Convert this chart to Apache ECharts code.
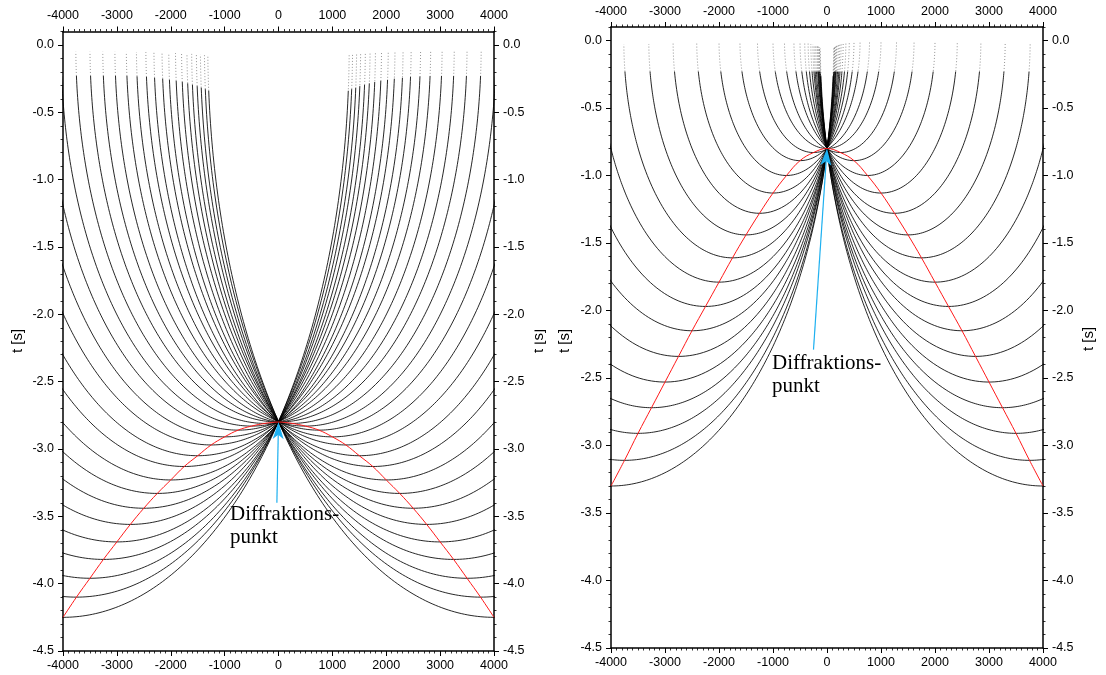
<!DOCTYPE html>
<html><head><meta charset="utf-8">
<script src="https://cdn.jsdelivr.net/npm/echarts@6/dist/echarts.min.js"></script>
<style>html,body{margin:0;padding:0;background:#fff}#c{width:1106px;height:675px}</style>
</head><body><div id="c"></div>
<script>
// ---- data ----
const xTickLabels = ['-4000','-3000','-2000','-1000','0','1000','2000','3000','4000'];
const tTickLabels = ['0.0','-0.5','-1.0','-1.5','-2.0','-2.5','-3.0','-3.5','-4.0','-4.5'];
// centres of the migration ellipses (x of points on the diffraction hyperbola)
const centersX = [-4000,-3750,-3500,-3250,-3000,-2750,-2500,-2250,-2000,-1750,-1500,-1250,-1000,-750,-500,-250,0,
                   250,500,750,1000,1250,1500,1750,2000,2250,2500,2750,3000,3250,3500,3750,4000];
// apex (lowest) times of the ellipses = times on the red hyperbola, left panel
const apexTimesLeft = [4.25,4.10,3.96,3.82,3.69,3.56,3.44,3.33,3.23,3.13,3.05,2.97,2.91,2.86,2.83,2.81,2.80,
                       2.81,2.83,2.86,2.91,2.97,3.05,3.13,3.23,3.33,3.44,3.56,3.69,3.82,3.96,4.10,4.25];
// right panel
const apexTimesRight = [3.30,3.11,2.91,2.72,2.53,2.34,2.15,1.97,1.79,1.61,1.44,1.28,1.13,1.00,0.89,0.83,0.80,
                        0.83,0.89,1.00,1.13,1.28,1.44,1.61,1.79,1.97,2.15,2.34,2.53,2.72,2.91,3.11,3.30];
const diffractionPoints = [[0, -2.8], [0, -0.8]];
const arrowTails = [[-30, -3.40], [-250, -2.29]];
const velocity = 2500; // m/s, sets the half-width of each ellipse
const labelLines = ['Diffraktions-', 'punkt'];
const axisName = 't [s]';

// ---- chart ----
const chart = echarts.init(document.getElementById('c'), null, {renderer: 'canvas'});
const grids = [
  {left: 63, top: 31.5, width: 431, height: 619.5},
  {left: 611, top: 27, width: 432, height: 621}
];
const lab = {fontFamily: 'Liberation Sans', fontSize: 12.5, color: '#000'};
function xLabel(v) { const i = Math.round((v + 4000) / 1000); return Math.abs(v - (i * 1000 - 4000)) < 1e-6 ? xTickLabels[i] : ''; }
function tLabel(v) { const i = Math.round(-v / 0.5); return (i >= 0 && i < tTickLabels.length && Math.abs(v + i * 0.5) < 1e-6) ? tTickLabels[i] : ''; }

const xAxes = [], yAxes = [];
grids.forEach((g, gi) => {
  ['bottom', 'top'].forEach(pos => xAxes.push({
    type: 'value', gridIndex: gi, position: pos, min: -4000, max: 4000, interval: 1000,
    axisLine: {show: true, onZero: false, lineStyle: {color: '#000', width: 1.5}},
    axisTick: {show: true, length: 5, lineStyle: {color: '#000', width: 1}},
    minorTick: {show: true, splitNumber: 10, length: 2.5, lineStyle: {color: '#000', width: 0.8}},
    splitLine: {show: false},
    axisLabel: Object.assign({margin: pos === 'top' ? 9 : 8, formatter: xLabel}, lab)
  }));
  ['left', 'right'].forEach(pos => yAxes.push({
    type: 'value', gridIndex: gi, position: pos, min: -4.5, max: 0.1, interval: 0.5,
    axisLine: {show: true, onZero: false, lineStyle: {color: '#000', width: 1.5}},
    axisTick: {show: true, length: 5, lineStyle: {color: '#000', width: 1}},
    splitLine: {show: false},
    axisLabel: Object.assign({margin: 9, formatter: tLabel, showMaxLabel: false}, lab)
  }));
  ['left', 'right'].forEach(pos => yAxes.push({
    type: 'value', gridIndex: gi, position: pos, min: -4.5, max: 0.1, interval: 0.1,
    axisLine: {show: false, onZero: false}, axisLabel: {show: false}, splitLine: {show: false},
    axisTick: {show: true, length: 2.5, lineStyle: {color: '#000', width: 0.8}}
  }));
});

function arc(x0, t0, thA, thB, n) {
  const a = velocity * t0 / 2, pts = [];
  for (let k = 0; k <= n; k++) {
    const th = thA + (thB - thA) * k / n;
    pts.push([x0 + a * Math.cos(th), -t0 * Math.sin(th)]);
  }
  return pts;
}

const series = [];
[apexTimesLeft, apexTimesRight].forEach((apex, gi) => {
  const xi = gi * 2, yi = gi * 4;
  centersX.forEach((x0, i) => {
    const t0 = apex[i];
    const sSolid = Math.min(0.95, Math.max(0.08, 0.23 / t0));
    const sEnd = 0.018;
    const thS = Math.asin(sSolid), thE = Math.asin(sEnd);
    const dotted = {color: '#777', width: 0.8, type: [1, 2]};
    series.push({type: 'line', xAxisIndex: xi, yAxisIndex: yi, data: arc(x0, t0, thS, Math.PI - thS, 260),
      showSymbol: false, symbol: 'none', lineStyle: {color: '#000', width: 0.85}, z: 2, silent: true});
    series.push({type: 'line', xAxisIndex: xi, yAxisIndex: yi, data: arc(x0, t0, thE, thS, 40),
      showSymbol: false, symbol: 'none', lineStyle: dotted, z: 2, silent: true});
    series.push({type: 'line', xAxisIndex: xi, yAxisIndex: yi, data: arc(x0, t0, Math.PI - thS, Math.PI - thE, 40),
      showSymbol: false, symbol: 'none', lineStyle: dotted, z: 2, silent: true});
  });
  series.push({type: 'line', xAxisIndex: xi, yAxisIndex: yi, smooth: 0.4,
    data: centersX.map((x, i) => [x, -apex[i]]),
    showSymbol: false, symbol: 'none', lineStyle: {color: '#ff1a1a', width: 1}, z: 5, silent: true});
});

chart.setOption({
  animation: false,
  backgroundColor: '#fff',
  grid: grids,
  xAxis: xAxes,
  yAxis: yAxes,
  series: series
});

// ---- arrows, annotation texts, axis names ----
const gfx = [];
const textPos = [[230, 514.5, 537], [772, 363.5, 386]];
diffractionPoints.forEach((dp, gi) => {
  const finder = {xAxisIndex: gi * 2, yAxisIndex: gi * 4};
  const P = chart.convertToPixel(finder, dp);
  const T = chart.convertToPixel(finder, arrowTails[gi]);
  const dx = P[0] - T[0], dy = P[1] - T[1], len = Math.hypot(dx, dy);
  const d = [dx / len, dy / len], nrm = [-d[1], d[0]];
  const L = 17, W = 11;
  const B = [P[0] - d[0] * L, P[1] - d[1] * L];
  const N = [P[0] - d[0] * L * 0.75, P[1] - d[1] * L * 0.75];
  gfx.push({type: 'line', silent: true, z: 10, shape: {x1: T[0], y1: T[1], x2: N[0], y2: N[1]},
    style: {stroke: '#1eb0f0', lineWidth: 1.2}});
  gfx.push({type: 'polygon', silent: true, z: 10, shape: {points: [
      P, [B[0] + nrm[0] * W / 2, B[1] + nrm[1] * W / 2], N, [B[0] - nrm[0] * W / 2, B[1] - nrm[1] * W / 2]]},
    style: {fill: '#1eb0f0'}});
  const tp = textPos[gi];
  labelLines.forEach((s, li) => gfx.push({type: 'text', silent: true, z: 11, x: tp[0], y: tp[1 + li],
    style: {text: s, font: '21px "Liberation Serif"', fill: '#000', textAlign: 'left', textVerticalAlign: 'middle'}}));
});
[[18, 341], [539, 341], [565, 341], [1089, 339]].forEach(p => gfx.push({
  type: 'text', silent: true, z: 11, x: p[0], y: p[1], rotation: Math.PI / 2,
  style: {text: axisName, font: '15px "Liberation Sans"', fill: '#000', textAlign: 'center', textVerticalAlign: 'middle'}}));
// the right-hand name of the left panel is partly covered in the original
gfx.push({type: 'rect', silent: true, z: 12, shape: {x: 526, y: 318, width: 8.5, height: 46}, style: {fill: '#fff'}});
chart.setOption({graphic: gfx});
</script></body></html>
